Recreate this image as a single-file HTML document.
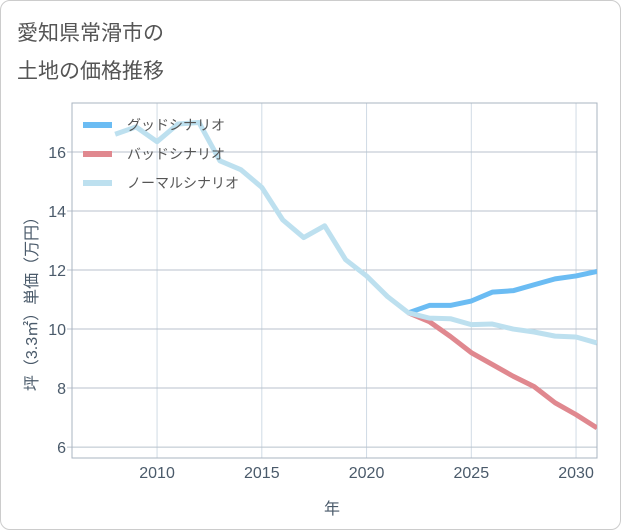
<!DOCTYPE html>
<html><head><meta charset="utf-8"><style>
body{margin:0;background:#fff;font-family:"Liberation Sans","Noto Sans CJK JP",sans-serif}
#wrap{position:relative;width:619px;height:528px;border:1px solid #ccc;border-radius:10px;overflow:hidden}
.t{position:absolute;left:16px;font-size:21px;color:#555}
</style></head><body>
<div id="wrap">
<div class="t" style="top:16px">愛知県常滑市の</div>
<div class="t" style="top:54px">土地の価格推移</div>
<svg id="c" width="621" height="530" style="position:absolute;left:-1px;top:-1px"></svg>
</div>
<script>
const years=[2008,2009,2010,2011,2012,2013,2014,2015,2016,2017,2018,2019,2020,2021,2022,2023,2024,2025,2026,2027,2028,2029,2030,2031];
const normal=[16.6,16.85,16.35,16.95,17.0,15.7,15.4,14.8,13.7,13.1,13.5,12.35,11.8,11.1,10.55,10.37,10.35,10.15,10.17,10.0,9.9,9.76,9.73,9.53];
const goodYears=[2022,2023,2024,2025,2026,2027,2028,2029,2030,2031];
const good=[10.55,10.8,10.8,10.95,11.25,11.3,11.5,11.7,11.8,11.95];
const bad=[10.55,10.25,9.75,9.2,8.8,8.4,8.05,7.5,7.1,6.65];
const xTicks=[2010,2015,2020,2025,2030];
const yTicks=[6,8,10,12,14,16];
const L=72,R=597,T=103,B=458,x0=2005.94,x1=2031,y0=5.63,y1=17.66;
const X=v=>L+(v-x0)/(x1-x0)*(R-L), Y=v=>B-(v-y0)/(y1-y0)*(B-T);
const s=document.getElementById('c'),NS='http://www.w3.org/2000/svg';
function mk(t,a,p){const e=document.createElementNS(NS,t);for(const k in a)e.setAttribute(k,a[k]);(p||s).appendChild(e);return e;}
let g;
xTicks.forEach(v=>{g=mk('line',{x1:X(v),x2:X(v),y1:T,y2:B,stroke:'#d0dbe5'});

g=mk('text',{x:X(v),y:478,'text-anchor':'middle','font-size':16,fill:'#4a5a6a'});g.textContent=v;
});
yTicks.forEach(v=>{g=mk('line',{x1:L-5,x2:R,y1:Y(v),y2:Y(v),stroke:'#b8c2cc'});

g=mk('text',{x:L-6,y:Y(v)+6,'text-anchor':'end','font-size':16,fill:'#4a5a6a'});g.textContent=v;
});
mk('rect',{x:L,y:T,width:R-L,height:B-T,fill:'none',stroke:'#aab4c0'});
const clip=mk('clipPath',{id:'cp'});mk('rect',{x:L,y:T,width:R-L,height:B-T},clip);
function line(xs,ys,col,name){const p=mk('polyline',{points:xs.map((v,i)=>X(v)+','+Y(ys[i])).join(' '),fill:'none',stroke:col,'stroke-width':5,'stroke-linejoin':'round','clip-path':'url(#cp)'});
}
line(goodYears,bad,'#e0888f','bad-scenario-line');
line(goodYears,good,'#6bbcf3','good-scenario-line');
line(years,normal,'#bde0ef','normal-scenario-line');
[['グッドシナリオ','#6bbcf3'],['バッドシナリオ','#e0888f'],['ノーマルシナリオ','#bde0ef']].forEach((d,i)=>{
const y=125+i*29;g=mk('line',{x1:83,x2:112,y1:y,y2:y,stroke:d[1],'stroke-width':6});

g=mk('text',{x:127,y:y+5,'font-size':14,fill:'#555'});g.textContent=d[0];
});
g=mk('text',{x:332,y:514,'text-anchor':'middle','font-size':16,fill:'#4a5a6a'});g.textContent='年';

g=mk('text',{x:0,y:0,transform:'translate(37,300) rotate(-90)','text-anchor':'middle','font-size':16,fill:'#4a5a6a'});g.textContent='坪（3.3㎡）単価（万円）';

</script>
</body></html>
